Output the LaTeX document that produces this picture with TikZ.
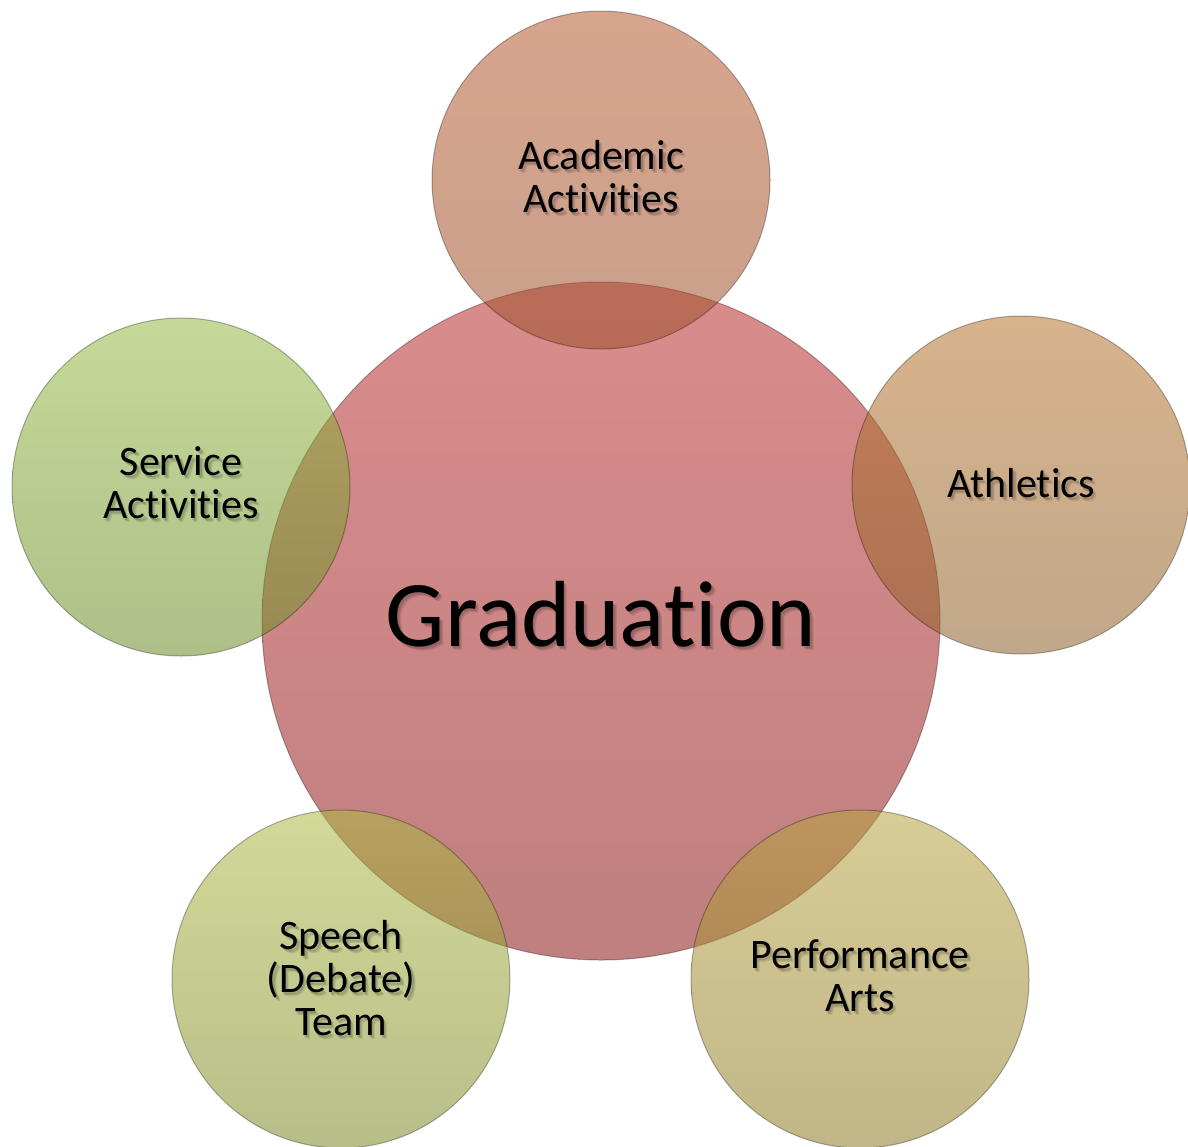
\documentclass[tikz,border=0pt]{standalone}
\usepackage{fontspec}
\setmainfont{Carlito}[Ligatures={NoCommon}]
% full colours, shown at 55% opacity on white
\definecolor{gradT}{HTML}{BC2E2E}
\definecolor{gradB}{HTML}{8B1818}
\definecolor{acadT}{HTML}{B85A30}
\definecolor{acadB}{HTML}{9D522E}
\definecolor{athT}{HTML}{B8752E}
\definecolor{athB}{HTML}{8E612A}
\definecolor{servT}{HTML}{96BA44}
\definecolor{servB}{HTML}{6C8D27}
\definecolor{spT}{HTML}{AFBA44}
\definecolor{spB}{HTML}{7E8927}
\definecolor{perfT}{HTML}{B8A440}
\definecolor{perfB}{HTML}{8E7A25}
\tikzset{
  bub/.style={circle, inner sep=0pt, minimum size=#1, draw=black,
    line width=0.5pt, draw opacity=0.3, fill opacity=0.55},
  lab/.style={align=center, text=black, font=\fontsize{21}{21.5}\selectfont},
  shad/.style={align=center, text=black, text opacity=0.09, font=\fontsize{21}{21.5}\selectfont},
  big/.style={font=\fontsize{47}{50}\selectfont},
}
\begin{document}
\begin{tikzpicture}[x=0.5pt,y=-0.5pt]
\useasboundingbox (0,0) rectangle (1188,1146);
\fill[white] (0,0) rectangle (1188,1146);
% circles
\node[bub=339pt, top color=gradT, bottom color=gradB] (grad) at (601,621) {};
\node[bub=169pt, top color=acadT, bottom color=acadB] (acad) at (601,180) {};
\node[bub=169pt, top color=athT, bottom color=athB] (ath) at (1021,485) {};
\node[bub=169pt, top color=servT, bottom color=servB] (serv) at (181,487) {};
\node[bub=169pt, top color=spT, bottom color=spB] (speech) at (341,979) {};
\node[bub=169pt, top color=perfT, bottom color=perfB] (perf) at (860,979) {};
% text positions
\coordinate (gradP) at ([shift={(0,-7)}]grad.center);
\coordinate (acadP) at ([shift={(0,-3)}]acad.center);
\coordinate (athP) at ([shift={(0,-2)}]ath.center);
\coordinate (servP) at ([shift={(0,-4)}]serv.center);
\coordinate (speechP) at ([shift={(0,-1)}]speech.center);
\coordinate (perfP) at ([shift={(0,-3)}]perf.center);
% soft text shadows
\foreach \dx/\dy [count=\k] in {1.5/2, 2.5/3, 3.5/4}{
  \node[shad, big] (gradS\k) at ([shift={(\dx,\dy)}]gradP) {Graduation};
  \node[shad] (acadS\k) at ([shift={(\dx,\dy)}]acadP) {Academic\\Activities};
  \node[shad] (athS\k) at ([shift={(\dx,\dy)}]athP) {Athletics};
  \node[shad] (servS\k) at ([shift={(\dx,\dy)}]servP) {Service\\Activities};
  \node[shad] (speechS\k) at ([shift={(\dx,\dy)}]speechP) {Speech\\(Debate)\\Team};
  \node[shad] (perfS\k) at ([shift={(\dx,\dy)}]perfP) {Performance\\Arts};
}
% texts
\node[lab, big] (gradL) at (gradP) {Graduation};
\node[lab] (acadL) at (acadP) {Academic\\Activities};
\node[lab] (athL) at (athP) {Athletics};
\node[lab] (servL) at (servP) {Service\\Activities};
\node[lab] (speechL) at (speechP) {Speech\\(Debate)\\Team};
\node[lab] (perfL) at (perfP) {Performance\\Arts};
\end{tikzpicture}
\end{document}
